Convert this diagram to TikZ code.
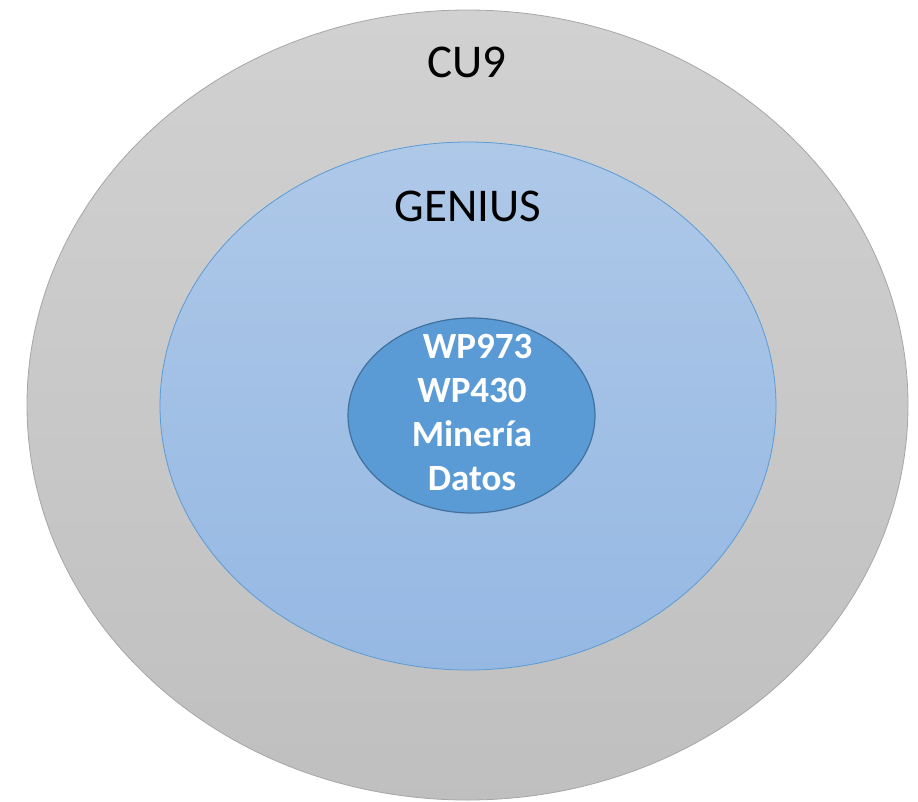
\documentclass[tikz,border=0pt]{standalone}
\usepackage{fontspec}
\setmainfont{Carlito}
\begin{document}
\begin{tikzpicture}[x=1pt,y=-1pt,
  outerring/.style={draw=black!35,line width=0.8pt,top color=black!18,bottom color=black!25},
  midring/.style={draw={rgb,255:red,91;green,155;blue,213},line width=0.8pt,top color={rgb,255:red,174;green,200;blue,232},bottom color={rgb,255:red,149;green,184;blue,227}},
  corering/.style={draw={rgb,255:red,65;green,113;blue,156},line width=1.2pt,fill={rgb,255:red,91;green,155;blue,213}},
  biglabel/.style={font=\fontsize{47}{56}\selectfont,text=black},
  corelabel/.style={font=\fontsize{37}{44}\selectfont\bfseries,text=white,align=center}]
  \useasboundingbox (0,0) rectangle (918,801);
  % nested ellipses
  \path[outerring] (467.5,405) ellipse [x radius=440.5,y radius=395];
  \path[midring] (468,406) ellipse [x radius=308,y radius=264];
  \path[corering] (471.5,415.5) ellipse [x radius=123.5,y radius=97.5];
  % labels
  \node[biglabel] (cu) at (467,62) {CU9};
  \node[biglabel] (genius) at (468,206) {GENIUS};
  \node[corelabel] (core) at (472,412) {\hspace*{0.3em}WP973\\WP430\\Minería\\Datos};
\end{tikzpicture}
\end{document}
